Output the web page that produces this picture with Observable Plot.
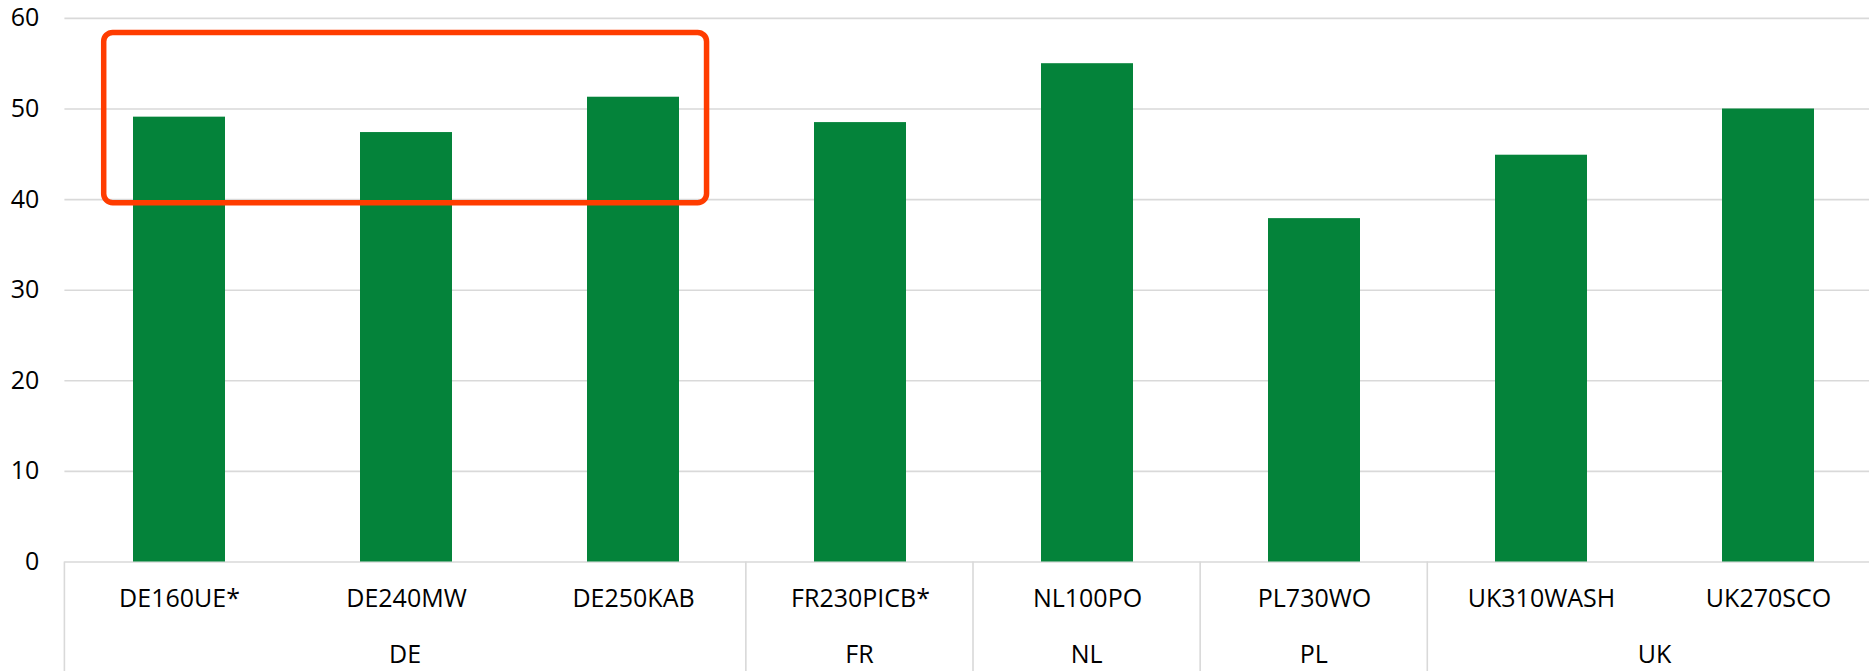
<!DOCTYPE html>
<html><head><meta charset="utf-8">
<script src="https://cdn.jsdelivr.net/npm/d3@7"></script>
<script src="https://cdn.jsdelivr.net/npm/@observablehq/plot@0.6"></script>
<style>
html,body{margin:0;padding:0;background:#fff;overflow:hidden;width:1869px;height:671px}
</style></head><body><div id="chart"></div>
<script>
const categories = ["DE160UE*","DE240MW","DE250KAB","FR230PICB*","NL100PO","PL730WO","UK310WASH","UK270SCO"];
const groups = ["DE","DE","DE","FR","NL","PL","UK","UK"];
const values = [49.1,47.4,51.3,48.5,55.0,37.9,44.9,50.0];
const yTicks = [0,10,20,30,40,50,60];
const boxCategories = ["DE160UE*","DE250KAB"];
const boxRange = [39.6, 58.4];

const data = categories.map((c,i)=>({category:c, group:groups[i], value:values[i]}));
const W = 1869, H = 671;
const FONT = "'Open Sans', sans-serif";
const chart = Plot.plot({
  width: W, height: H,
  marginTop: 18, marginBottom: 109.5, marginLeft: 64.4, marginRight: 0,
  style: {fontFamily: FONT, fontSize: "25px", color: "#000", background: "#fff", overflow: "hidden"},
  x: {domain: categories, range: [64.4, 1881.6], paddingInner: 0.596, paddingOuter: 0.298, align: 0.5, label: null},
  y: {domain: [0, 60], range: [561.5, 17.9], label: null},
  marks: [
    Plot.ruleY(yTicks, {stroke: "#d9d9d9", strokeWidth: 1.6}),
    Plot.barY(data, {x: "category", y: "value", fill: "#04833a"}),
    Plot.axisY({ticks: yTicks, tickSize: 0, tickPadding: 25.5, fontSize: 25, label: null}),
    Plot.axisX({tickSize: 0, tickPadding: 27.6, fontSize: 25, label: null})
  ]
});
document.getElementById("chart").appendChild(chart);

const xsc = chart.scale("x"), ysc = chart.scale("y");
const band = d3.scaleBand().domain(xsc.domain).range(xsc.range)
  .paddingInner(xsc.paddingInner ?? 0.596).paddingOuter(xsc.paddingOuter ?? 0.298).align(xsc.align ?? 0.5);
const yl = d3.scaleLinear().domain(ysc.domain).range(ysc.range);
const step = band.step(), bw = band.bandwidth();
const cellLeft = c => band(c) - (step - bw) / 2;
const svg = d3.select(chart);
const y0 = yl(0);

// group separators and labels
const groupNames = [...new Set(groups)];
groupNames.forEach(g => {
  const cats = categories.filter((c,i) => groups[i] === g);
  const left = cellLeft(cats[0]);
  const right = cellLeft(cats[cats.length-1]) + step;
  svg.append("line").attr("x1", left).attr("x2", left).attr("y1", y0).attr("y2", H)
    .attr("stroke", "#d9d9d9").attr("stroke-width", 1.6);
  svg.append("text").attr("x", (left + right) / 2).attr("y", 654.5).attr("dy", "0.35em")
    .attr("text-anchor", "middle").attr("font-family", FONT).attr("font-size", 25).attr("fill", "#000").text(g);
});

// highlight box
const pad = 0.125 * step;
const bx1 = band(boxCategories[0]) - pad;
const bx2 = band(boxCategories[1]) + bw + pad;
const by1 = yl(boxRange[1]), by2 = yl(boxRange[0]);
svg.append("rect").attr("x", bx1).attr("y", by1).attr("width", bx2 - bx1).attr("height", by2 - by1)
  .attr("rx", 9).attr("ry", 9).attr("fill", "none").attr("stroke", "#ff3c00").attr("stroke-width", 5.5);
</script></body></html>
